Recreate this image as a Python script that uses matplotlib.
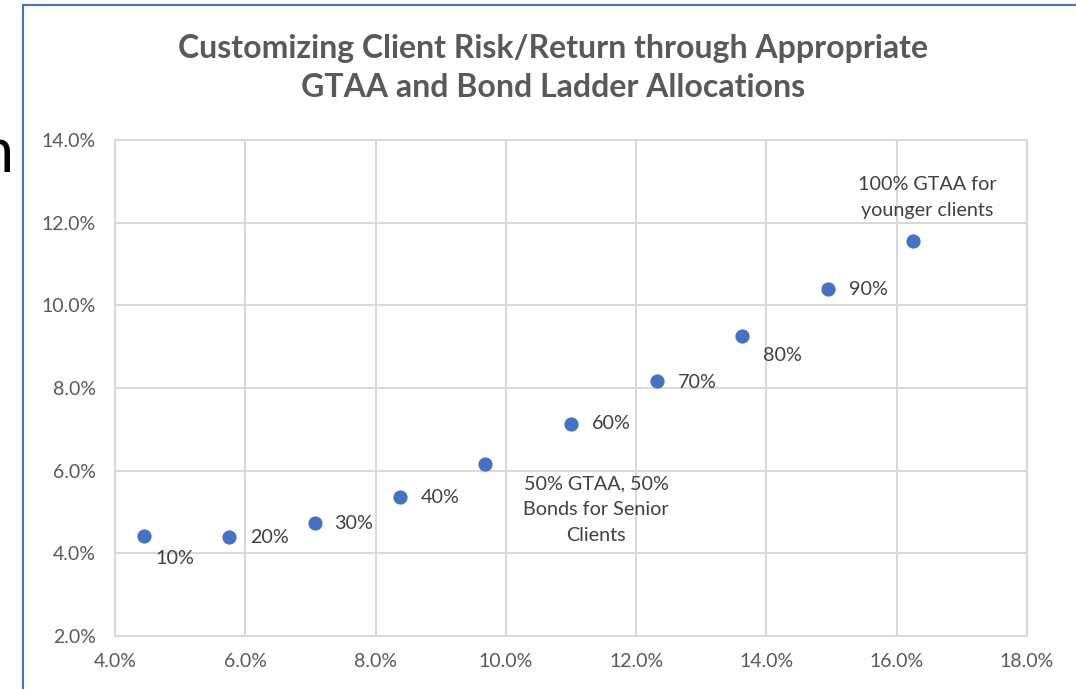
import matplotlib.pyplot as plt
from matplotlib.lines import Line2D
from matplotlib.ticker import FuncFormatter

# risk (x) / return (y) in percent
risk = [4.45, 5.75, 7.07, 8.38, 9.68, 11.0, 12.32, 13.63, 14.95, 16.25]
ret = [4.42, 4.39, 4.73, 5.36, 6.16, 7.13, 8.17, 9.26, 10.39, 11.56]
labels = ['10%', '20%', '30%', '40%', '50% GTAA, 50%\nBonds for Senior\nClients',
          '60%', '70%', '80%', '90%', '100% GTAA for\nyounger clients']
# label offsets in points
offs = [(22, -16), (29, 0), (28, 0), (29, 0), (80, -33),
        (29, 0), (29, -1), (29, -14), (29, 0), (10, 31)]

plt.rcParams['font.family'] = ['Lato', 'DejaVu Sans']

fig = plt.figure(figsize=(10.76, 6.89), dpi=100)
ax = fig.add_axes([115 / 1076, 53 / 689, 912 / 1076, 496 / 689])

ax.scatter(risk, ret, s=105, color='#4472C4', zorder=3, linewidths=0)
for x, y, lab, (dx, dy) in zip(risk, ret, labels, offs):
    ax.annotate(lab, (x, y), xytext=(dx, dy), textcoords='offset points',
                ha='center', va='center', fontsize=14.2, color='#404040',
                linespacing=1.65)

ax.set_xlim(4, 18)
ax.set_ylim(2, 14)
ax.set_xticks(range(4, 19, 2))
ax.set_yticks(range(2, 15, 2))
fmt = FuncFormatter(lambda v, p: '%.1f%%' % v)
ax.xaxis.set_major_formatter(fmt)
ax.yaxis.set_major_formatter(fmt)
ax.tick_params(length=0, labelsize=14, labelcolor='#595959')
ax.tick_params(axis='x', pad=12)
ax.tick_params(axis='y', pad=14)
ax.grid(True, color='#d9d9d9', linewidth=1.5)
ax.set_axisbelow(True)
for s in ax.spines.values():
    s.set_color('#d9d9d9')
    s.set_linewidth(1.5)

fig.text(553 / 1076, 1 - 68 / 689,
         'Customizing Client Risk/Return through Appropriate\nGTAA and Bond Ladder Allocations',
         ha='center', va='center', fontsize=23, fontweight='bold', color='#595959',
         linespacing=1.45)

# chart frame (cropped) and stray glyph from the slide
fig.add_artist(Line2D([23 / 1076, 23 / 1076], [0, 1 - 5 / 689], color='#4472C4', lw=1.5))
fig.add_artist(Line2D([23 / 1076, 1], [1 - 5 / 689, 1 - 5 / 689], color='#4472C4', lw=1.5))
fig.text(-20 / 1076, 1 - 155 / 689, 'n', fontsize=44, color='black', va='center', ha='left')

fig.savefig('out.png', dpi=100)
